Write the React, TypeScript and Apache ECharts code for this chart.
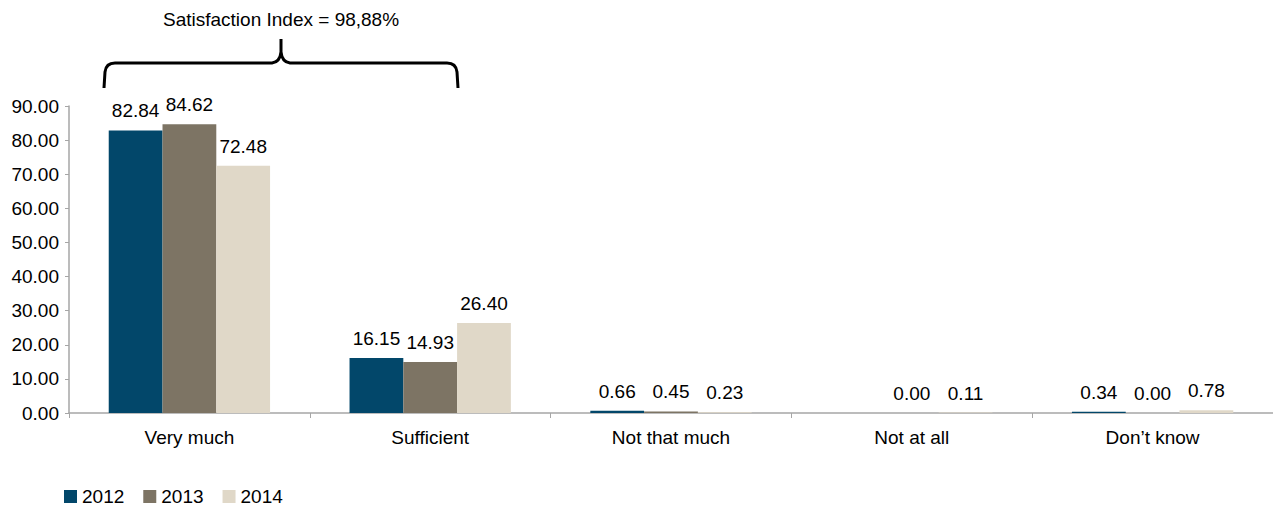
import React, { useEffect, useRef } from "react";
import * as echarts from "echarts";

const categories = ["Very much", "Sufficient", "Not that much", "Not at all", "Don\u2019t know"];
const years = ["2012", "2013", "2014"];
const values2012: (number | null)[] = [82.84, 16.15, 0.66, null, 0.34];
const values2013: (number | null)[] = [84.62, 14.93, 0.45, 0.0, 0.0];
const values2014: (number | null)[] = [72.48, 26.4, 0.23, 0.11, 0.78];
const colors = ["#02476A", "#7D7464", "#E0D8C8"];
const annotationText = "Satisfaction Index = 98,88%";

const FONT = "'Liberation Sans Narrow', 'Arial Narrow', 'Liberation Sans', sans-serif";

const braceD =
  "M104 88 L105 72 Q106 63 115 63 L272 63 Q280 62 281 52 L281 39 M281 52 Q282 62 290 63 L447 63 Q456 63 457 72 L458 88";

export default function App() {
  const ref = useRef<HTMLDivElement>(null);
  useEffect(() => {
    if (!ref.current) return;
    try {
      echarts.graphic.registerShape("brace", echarts.graphic.extendPath(braceD, {}) as any);
    } catch (e) {}
    const chart = echarts.init(ref.current, null, { renderer: "svg" });
    const seriesData = [values2012, values2013, values2014];
    chart.setOption({
      animation: false,
      textStyle: { fontFamily: FONT },
      grid: { left: 69, right: -2, top: 106, bottom: 95, containLabel: false },
      legend: {
        left: 64,
        top: 487,
        padding: 0,
        itemWidth: 13,
        itemHeight: 13,
        itemGap: 19,
        icon: "rect",
        textStyle: { fontFamily: FONT, fontSize: 19, color: "#000", lineHeight: 19 },
        data: years,
      },
      xAxis: {
        type: "category",
        data: categories,
        axisLine: { lineStyle: { color: "#a6a6a6", width: 1.5 } },
        axisTick: { show: true, length: 5, lineStyle: { color: "#a6a6a6" } },
        axisLabel: { fontFamily: FONT, fontSize: 19, color: "#000", margin: 15 },
      },
      yAxis: {
        type: "value",
        min: 0,
        max: 90,
        interval: 10,
        splitLine: { show: false },
        axisLine: { show: true, lineStyle: { color: "#a6a6a6", width: 1.5 } },
        axisTick: { show: true, length: 4, lineStyle: { color: "#a6a6a6" } },
        axisLabel: {
          fontFamily: FONT,
          fontSize: 19,
          color: "#000",
          margin: 10,
          formatter: (v: number) => v.toFixed(2),
        },
      },
      series: years.map((y, i) => ({
        name: y,
        type: "bar",
        data: seriesData[i],
        barGap: "0%",
        barCategoryGap: "33%",
        itemStyle: { color: colors[i] },
        label: {
          show: true,
          position: "top",
          distance: 10,
          fontFamily: FONT,
          fontSize: 19,
          color: "#000",
          formatter: (p: any) => (p.value == null ? "" : Number(p.value).toFixed(2)),
        },
      })),
      graphic: [
        {
          type: "text",
          left: 163,
          top: 10,
          style: { text: annotationText, font: `19px ${FONT}`, fill: "#000" },
        },
        {
          type: "brace",
          x: 0,
          y: 0,
          style: { fill: "none", stroke: "#000", lineWidth: 3 },
        },
      ],
    });
    return () => chart.dispose();
  }, []);
  return (
    <div
      ref={ref}
      style={{ position: "fixed", left: 0, top: 0, width: 1273, height: 508, background: "#fff" }}
    />
  );
}
